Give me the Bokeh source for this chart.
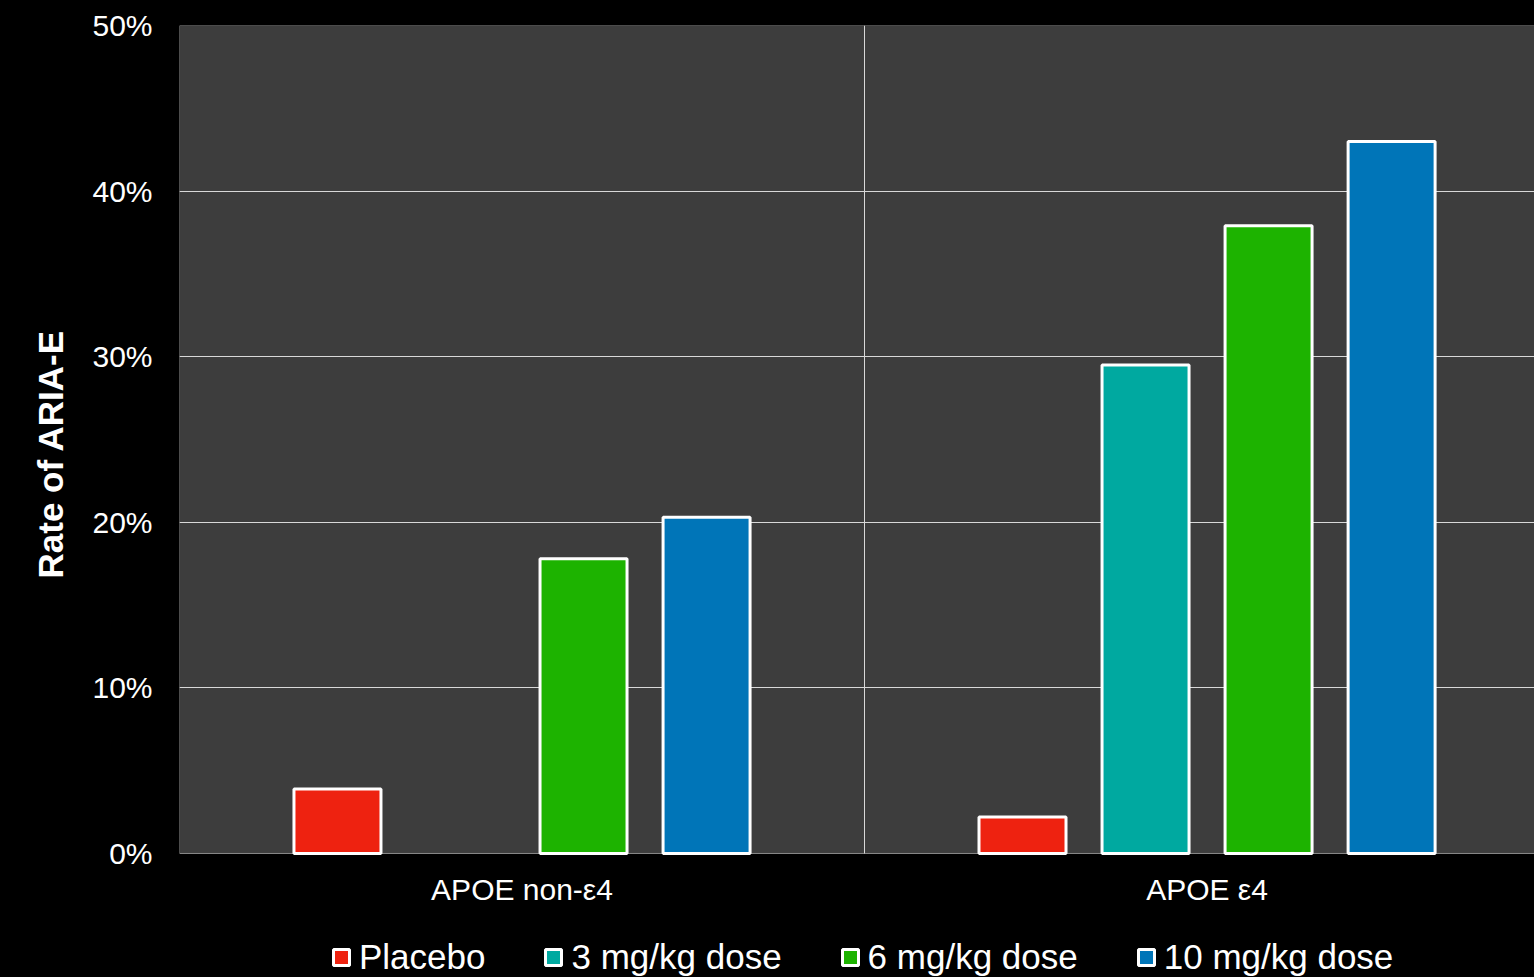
from bokeh.plotting import figure
from bokeh.models import (Range1d, FixedTicker, Legend, LegendItem, ColumnDataSource,
                          BoxAnnotation, Title)
from bokeh.embed import file_html
from bokeh.resources import INLINE

# Rate of ARIA-E (%) by APOE genotype and treatment arm
groups = ["APOE non-ε4", "APOE ε4"]
series = ["Placebo", "3 mg/kg dose", "6 mg/kg dose", "10 mg/kg dose"]
placebo = [3.9, 2.2]
dose_3 = [float("nan"), 29.5]
dose_6 = [17.8, 37.9]
dose_10 = [20.3, 43.0]
colors = ["#ee2210", "#00a9a0", "#1db300", "#0075b8"]
y_ticks = [0, 10, 20, 30, 40, 50]
y_tick_labels = ["0%", "10%", "20%", "30%", "40%", "50%"]

group_centers = [0.5, 1.5]
bar_step = 0.1796
bar_width = 0.127
offsets = [-1.5, -0.5, 0.5, 1.5]

# the frame runs to the bottom of the canvas so the legend can sit under the axis
p = figure(
    width=1534, height=977,
    x_range=Range1d(0, 1.978), y_range=Range1d(-7.49, 50),
    output_backend="svg", toolbar_location=None,
    background_fill_color="black", border_fill_color="black",
    min_border_left=179, min_border_right=0, min_border_top=25, min_border_bottom=0,
    outline_line_color=None,
)

# dark plotting area between 0% and 50%
p.add_layout(BoxAnnotation(left=0, right=2.1, bottom=0, top=50, level="image",
                           fill_color="#3d3d3d", fill_alpha=1,
                           line_color="#8a8a8a", line_width=1, line_alpha=1))

renderers = []
for name, vals, col, off in zip(series, [placebo, dose_3, dose_6, dose_10], colors, offsets):
    src = ColumnDataSource(dict(x=[c + off * bar_step for c in group_centers], top=vals))
    r = p.vbar(x="x", top="top", bottom=0, width=bar_width, source=src,
               fill_color=col, line_color="white", line_width=3)
    renderers.append(r)

# axes
p.yaxis.ticker = FixedTicker(ticks=y_ticks)
p.yaxis.major_label_overrides = {t: l for t, l in zip(y_ticks, y_tick_labels)}
p.xaxis.ticker = FixedTicker(ticks=group_centers)
p.xaxis.major_label_overrides = {c: g for c, g in zip(group_centers, groups)}
p.xaxis.fixed_location = 0
for ax in (p.xaxis, p.yaxis):
    ax.axis_line_color = None
    ax.major_tick_line_color = None
    ax.minor_tick_line_color = None
    ax.major_tick_out = 0
    ax.major_tick_in = 0
    ax.minor_tick_out = 0
    ax.minor_tick_in = 0
    ax.major_label_text_color = "white"
    ax.major_label_text_font = "Liberation Sans"
    ax.major_label_text_font_size = "30px"
p.yaxis.major_label_standoff = 27
p.xaxis.major_label_standoff = 20

# vertical value-axis title, anchored from the bottom of the frame
p.add_layout(Title(text="Rate of ARIA-E", align="left", offset=399, standoff=40,
                   text_color="white", text_font="Liberation Sans",
                   text_font_style="bold", text_font_size="35px"), "left")

# grid
p.ygrid.ticker = FixedTicker(ticks=[10, 20, 30, 40])
p.ygrid.grid_line_color = "#d9d9d9"
p.ygrid.grid_line_width = 1
p.xgrid.ticker = FixedTicker(ticks=[1])
p.xgrid.cross_bounds = (0, 50)
p.xgrid.grid_line_color = "#d9d9d9"
p.xgrid.grid_line_width = 1

legend = Legend(
    items=[LegendItem(label=s, renderers=[r]) for s, r in zip(series, renderers)],
    orientation="horizontal", location=(152, 0),
    glyph_width=20, glyph_height=20, label_standoff=8, spacing=58,
    padding=0, margin=0,
    label_text_color="white", label_text_font="Liberation Sans",
    label_text_font_size="35px",
    background_fill_alpha=0, border_line_color=None,
)
p.add_layout(legend, "center")

html = file_html(p, INLINE)
# black page behind the canvas so no light seams show between fills
html = html.replace("<head>", "<head><style>html, body { background: #000; margin: 0; }</style>", 1)
open("out.html", "w").write(html)
